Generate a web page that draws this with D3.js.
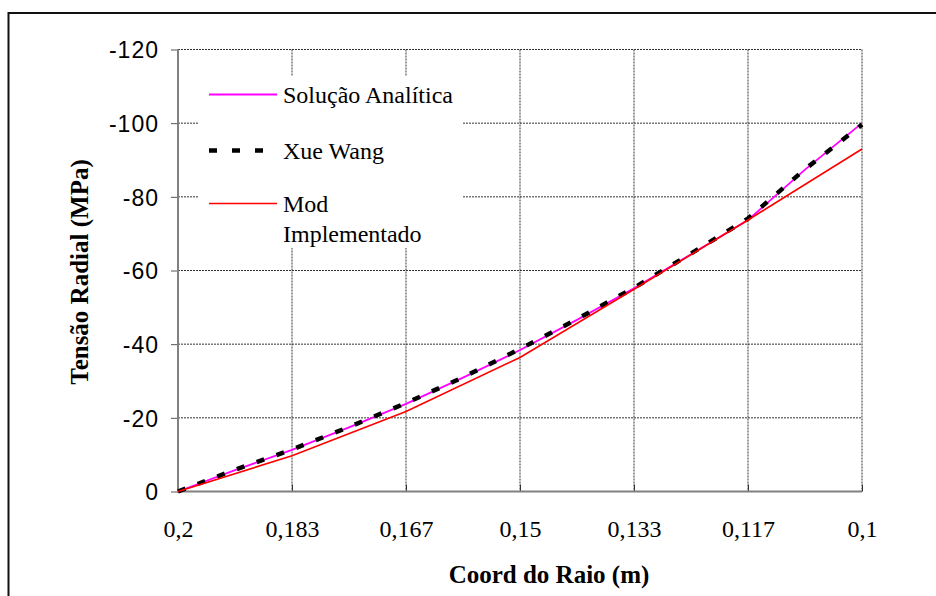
<!DOCTYPE html>
<html>
<head>
<meta charset="utf-8">
<script src="https://cdn.jsdelivr.net/npm/d3@7"></script>
<style>
  html, body { margin: 0; padding: 0; background: #fff; }
  svg { display: block; }
</style>
</head>
<body>
<svg id="chart" width="936" height="596"></svg>
<script>
// Radius coordinates (m), from outer (0.2) to inner (0.1) radius
const raioFino = [0.2, 0.191667, 0.183333, 0.175, 0.166667, 0.158333, 0.15,
                  0.141667, 0.133333, 0.125, 0.116667, 0.108333, 0.1];
const raioGrosso = [0.2, 0.183333, 0.166667, 0.15, 0.133333, 0.116667, 0.1];

// Radial stress (MPa)
const solucaoAnalitica = [0, -5.8, -11.3, -17.4, -23.8, -30.9, -38.4,
                          -46.6, -55.2, -64.4, -73.7, -87.4, -100];
const xueWang = [0, -5.9, -11.4, -17.5, -24.0, -31.0, -38.7,
                 -46.8, -55.3, -64.6, -74.1, -87.5, -99.6];
const modImplementado = [0, -9.7, -21.7, -36.4, -54.9, -73.7, -93.0];

// Axis ticks
const xTicks = [0.2, 0.183333, 0.166667, 0.15, 0.133333, 0.116667, 0.1];
const xTickLabels = ["0,2", "0,183", "0,167", "0,15", "0,133", "0,117", "0,1"];
const yTicks = [0, -20, -40, -60, -80, -100, -120];

const serif = "'Liberation Serif', 'Times New Roman', serif";
const sans = "'Liberation Sans', Arial, sans-serif";

const svg = d3.select("#chart");
const plotLeft = 178, plotRight = 862, plotTop = 49.5, plotBottom = 491.5;

const x = d3.scaleLinear().domain([0.2, 0.1]).range([plotLeft, plotRight]);
const y = d3.scaleLinear().domain([0, -120]).range([plotBottom, plotTop]);

// Outer frame
svg.append("rect")
  .attr("x", 8.5).attr("y", 13)
  .attr("width", 1000).attr("height", 700)
  .attr("fill", "none").attr("stroke", "#111").attr("stroke-width", 2);

// Grid
const grid = svg.append("g");
grid.selectAll("line.h").data(yTicks.filter(d => d !== 0)).join("line")
  .attr("x1", plotLeft).attr("x2", plotRight)
  .attr("y1", d => y(d)).attr("y2", d => y(d))
  .attr("stroke", "#333").attr("stroke-width", 1).attr("stroke-dasharray", "2,1");
grid.selectAll("line.v").data(xTicks.slice(1)).join("line")
  .attr("x1", d => x(d)).attr("x2", d => x(d))
  .attr("y1", plotTop).attr("y2", plotBottom)
  .attr("stroke", "#333").attr("stroke-width", 1).attr("stroke-dasharray", "2,1");

// Axes
const yAxis = d3.axisLeft(y).tickValues(yTicks).tickSize(7).tickFormat(d => d === 0 ? "0" : "-" + Math.abs(d));
const gy = svg.append("g").attr("transform", `translate(${plotLeft},0)`).call(yAxis);
gy.select(".domain").remove();
gy.selectAll(".tick line").attr("stroke", "#555").attr("stroke-width", 1);
gy.selectAll(".tick text")
  .attr("x", -19).attr("dy", "0.36em")
  .style("font-family", sans).style("font-size", "23px").style("letter-spacing", "1px")
  .attr("fill", "#000");

const xAxis = d3.axisBottom(x).tickValues(xTicks).tickSize(-7).tickFormat((d, i) => xTickLabels[i]);
const gx = svg.append("g").attr("transform", `translate(0,${plotBottom})`).call(xAxis);
gx.select(".domain").remove();
gx.selectAll(".tick line").attr("stroke", "#333").attr("stroke-width", 1);
gx.selectAll(".tick text")
  .attr("y", 45).attr("dy", 0)
  .style("font-family", serif).style("font-size", "24px").attr("fill", "#000");

svg.append("line").attr("x1", plotLeft).attr("x2", plotLeft).attr("y1", plotTop).attr("y2", plotBottom + 1)
  .attr("stroke", "#808080").attr("stroke-width", 2);
svg.append("line").attr("x1", plotLeft).attr("x2", plotRight).attr("y1", plotBottom).attr("y2", plotBottom)
  .attr("stroke", "#808080").attr("stroke-width", 2);

// Legend background
svg.append("rect").attr("x", 198).attr("y", 76).attr("width", 264).attr("height", 172).attr("fill", "#fff");

// Series
const line = d3.line().x(d => x(d[0])).y(d => y(d[1]));
const plot = svg.append("g");
plot.append("path").datum(d3.zip(raioFino, solucaoAnalitica)).attr("d", line)
  .attr("fill", "none").attr("stroke", "#ff00ff").attr("stroke-width", 1.8);
plot.append("path").datum(d3.zip(raioFino, xueWang)).attr("d", line)
  .attr("fill", "none").attr("stroke", "#000").attr("stroke-width", 4.5)
  .attr("stroke-dasharray", "8,13");
plot.append("path").datum(d3.zip(raioGrosso, modImplementado)).attr("d", line)
  .attr("fill", "none").attr("stroke", "#ff0000").attr("stroke-width", 1.6);

// Legend
const legend = svg.append("g");
const items = [
  { label: ["Solução Analítica"], color: "#ff00ff", w: 1.8, dash: null, ly: 94.5 },
  { label: ["Xue Wang"], color: "#000", w: 4.5, dash: "8,15", ly: 150.5 },
  { label: ["Mod", "Implementado"], color: "#ff0000", w: 1.6, dash: null, ly: 203.5 }
];
items.forEach(it => {
  legend.append("line").attr("x1", 209).attr("x2", 277).attr("y1", it.ly).attr("y2", it.ly)
    .attr("stroke", it.color).attr("stroke-width", it.w).attr("stroke-dasharray", it.dash);
  it.label.forEach((t, i) => {
    legend.append("text").attr("x", 283).attr("y", it.ly + 8 + i * 30)
      .style("font-family", serif).style("font-size", "24px").text(t);
  });
});

// Axis titles
svg.append("text").attr("x", 549).attr("y", 583).attr("text-anchor", "middle")
  .style("font-family", serif).style("font-size", "25px").style("font-weight", "bold")
  .text("Coord do Raio (m)");
svg.append("text").attr("transform", "translate(88,272) rotate(-90)").attr("text-anchor", "middle")
  .style("font-family", serif).style("font-size", "25px").style("font-weight", "bold")
  .text("Tensão Radial (MPa)");
</script>
</body>
</html>
